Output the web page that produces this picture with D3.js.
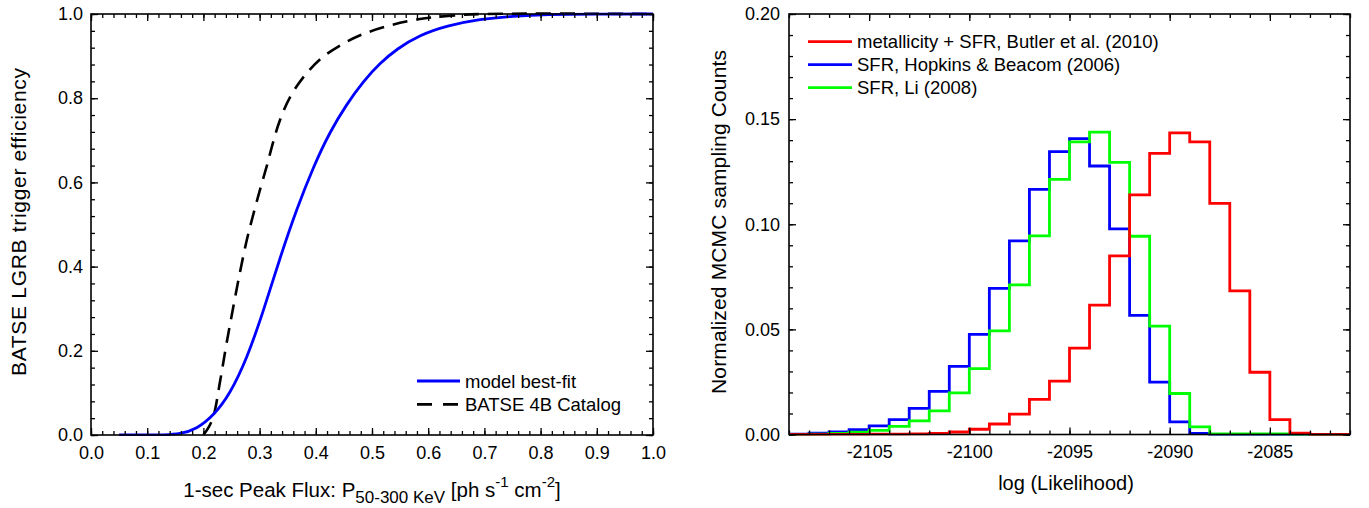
<!DOCTYPE html>
<html><head><meta charset="utf-8">
<script src="https://cdn.jsdelivr.net/npm/d3@7"></script>
<style>
body{margin:0;background:#fff}
svg{display:block}
text{font-family:"Liberation Sans",Arial,Helvetica,sans-serif;fill:#000}
</style>
</head><body>
<svg id="c" width="1369" height="508"></svg>
<script>
// ---------- Left panel data ----------
const modelFlux = [0.05,0.10,0.13,0.158,0.188,0.218,0.247,0.277,0.307,0.336,0.366,0.396,0.425,0.455,0.485,0.514,0.544,0.585,0.633,0.692,0.751,0.81,0.9,1.0];
const modelEff  = [0.0,0.0,0.0003,0.002,0.014,0.046,0.097,0.180,0.295,0.420,0.537,0.638,0.720,0.786,0.841,0.883,0.917,0.950,0.972,0.988,0.995,0.999,1.0,1.0];
const batseFlux = [0.200,0.210,0.218,0.230,0.241,0.253,0.265,0.277,0.289,0.301,0.313,0.324,0.336,0.354,0.378,0.408,0.443,0.480,0.530,0.585,0.640,0.700,1.0];
const batseEff  = [0.0,0.02,0.045,0.13,0.216,0.303,0.386,0.462,0.525,0.584,0.640,0.695,0.747,0.802,0.850,0.893,0.925,0.950,0.972,0.988,0.996,1.0,1.0];
const fluxTicks = [0.0,0.1,0.2,0.3,0.4,0.5,0.6,0.7,0.8,0.9,1.0];
const effTicks  = [0.0,0.2,0.4,0.6,0.8,1.0];
const leftLegend = ["model best-fit","BATSE 4B Catalog"];

// ---------- Right panel data ----------
const binLeft = [-2109,-2108,-2107,-2106,-2105,-2104,-2103,-2102,-2101,-2100,-2099,-2098,-2097,-2096,-2095,-2094,-2093,-2092,-2091,-2090,-2089,-2088,-2087,-2086,-2085,-2084,-2083,-2082];
const redCounts   = [0.0,0.0,0.0001,0.0001,0.0002,0.0002,0.0003,0.0005,0.0012,0.0025,0.0050,0.0097,0.0167,0.0254,0.0411,0.0615,0.0850,0.1140,0.1337,0.1435,0.1392,0.1099,0.0683,0.0296,0.0071,0.0006,0.0,0.0];
const blueCounts  = [0.0002,0.0006,0.0012,0.0023,0.0041,0.0071,0.0124,0.0205,0.0324,0.0476,0.0695,0.0921,0.1166,0.1345,0.1407,0.1277,0.0978,0.0567,0.0249,0.0060,0.0005,0.0,0.0,0.0,0.0,0.0,0.0,0.0];
const greenCounts = [0.0001,0.0002,0.0005,0.0011,0.0020,0.0039,0.0065,0.0112,0.0198,0.0313,0.0493,0.0712,0.0945,0.1213,0.1392,0.1438,0.1294,0.0943,0.0515,0.0195,0.0036,0.0003,0.0003,0.0003,0.0003,0.0,0.0,0.0];
const likeTicks  = [-2105,-2100,-2095,-2090,-2085];
const countTicks = [0.00,0.05,0.10,0.15,0.20];
const rightLegend = ["metallicity + SFR, Butler et al. (2010)","SFR, Hopkins & Beacom (2006)","SFR, Li (2008)"];

const svg = d3.select("#c");
const TICK_FS = "18px";

function frame(g, x, y, xMajor, xMinorStep, yMajor, yMinorStep, xFmt, yFmt, xLabPad, yLabPad){
  const [x0,x1] = x.range(), [y0,y1] = y.range(); // y0 bottom
  const xd = x.domain(), yd = y.domain();
  const xMinor = d3.range(Math.round((xd[1]-xd[0])/xMinorStep)+1).map(i=>xd[0]+i*xMinorStep);
  const yMinor = d3.range(Math.round((yd[1]-yd[0])/yMinorStep)+1).map(i=>yd[0]+i*yMinorStep);
  const add = (axis, tr) => {
    const a = g.append("g").attr("transform", tr).call(axis);
    a.select(".domain").remove();
    a.selectAll(".tick line").attr("stroke","#000").attr("stroke-width",1.3);
    a.selectAll(".tick text").style("font-size",TICK_FS).attr("fill","#000");
    return a;
  };
  add(d3.axisBottom(x).tickValues(xMinor).tickSize(-4).tickFormat(""), `translate(0,${y0})`);
  add(d3.axisTop(x).tickValues(xMinor).tickSize(-4).tickFormat(""), `translate(0,${y1})`);
  add(d3.axisLeft(y).tickValues(yMinor).tickSize(-4).tickFormat(""), `translate(${x0},0)`);
  add(d3.axisRight(y).tickValues(yMinor).tickSize(-4).tickFormat(""), `translate(${x1},0)`);
  add(d3.axisBottom(x).tickValues(xMajor).tickSize(-7).tickPadding(xLabPad).tickFormat(xFmt), `translate(0,${y0})`);
  add(d3.axisTop(x).tickValues(xMajor).tickSize(-7).tickFormat(""), `translate(0,${y1})`);
  add(d3.axisLeft(y).tickValues(yMajor).tickSize(-7).tickPadding(yLabPad).tickFormat(yFmt), `translate(${x0},0)`);
  add(d3.axisRight(y).tickValues(yMajor).tickSize(-7).tickFormat(""), `translate(${x1},0)`);
  g.append("rect").attr("x",x0).attr("y",y1).attr("width",x1-x0).attr("height",y0-y1)
    .attr("fill","none").attr("stroke","#000").attr("stroke-width",1.6);
}

// ================= LEFT PANEL =================
{
  const g = svg.append("g");
  const x = d3.scaleLinear().domain([0,1]).range([91,653]);
  const y = d3.scaleLinear().domain([0,1]).range([435,14]);
  g.append("clipPath").attr("id","clipL").append("rect")
    .attr("x",91).attr("y",12).attr("width",562).attr("height",424);
  const dashLine = d3.line().x(d=>x(d[0])).y(d=>y(d[1])).curve(d3.curveCatmullRom.alpha(0.5));
  const smoothLine = d3.line().x(d=>x(d[0])).y(d=>y(d[1])).curve(d3.curveBasis);
  g.append("path").datum(batseFlux.map((f,i)=>[f,batseEff[i]]))
    .attr("d",dashLine).attr("fill","none").attr("stroke","#000").attr("stroke-width",2.6)
    .attr("stroke-dasharray","15,9").attr("clip-path","url(#clipL)");
  g.append("path").datum(modelFlux.map((f,i)=>[f,modelEff[i]]))
    .attr("d",smoothLine).attr("fill","none").attr("stroke","#0000ff").attr("stroke-width",2.8)
    .attr("clip-path","url(#clipL)");
  frame(g, x, y, fluxTicks, 0.02, effTicks, 0.04, d3.format(".1f"), d3.format(".1f"), 11, 8);

  const styles = [{c:"#0000ff",d:null},{c:"#000",d:"15,11"}];
  leftLegend.forEach((t,i)=>{
    const yy = 381 + i*23.3;
    g.append("line").attr("x1",417).attr("x2",460).attr("y1",yy).attr("y2",yy)
      .attr("stroke",styles[i].c).attr("stroke-width",2.8).attr("stroke-dasharray",styles[i].d);
    g.append("text").attr("x",465).attr("y",yy+6.6).style("font-size","18.5px").text(t);
  });

  g.append("text").attr("transform","translate(26,222) rotate(-90)")
    .attr("text-anchor","middle").style("font-size","21px")
    .attr("textLength",308).attr("lengthAdjust","spacing")
    .text("BATSE LGRB trigger efficiency");
  const xt = g.append("text").attr("x",372).attr("y",497).attr("text-anchor","middle").style("font-size","20.5px");
  xt.append("tspan").text("1-sec Peak Flux: P");
  xt.append("tspan").attr("dy",6).style("font-size","17px").text("50-300 KeV");
  xt.append("tspan").attr("dy",-6).text(" [ph s");
  xt.append("tspan").attr("dy",-10).style("font-size","15px").text("-1");
  xt.append("tspan").attr("dy",10).text(" cm");
  xt.append("tspan").attr("dy",-10).style("font-size","15px").text("-2");
  xt.append("tspan").attr("dy",10).text("]");
}

// ================= RIGHT PANEL =================
{
  const g = svg.append("g");
  const x = d3.scaleLinear().domain([-2109,-2081]).range([789,1350]);
  const y = d3.scaleLinear().domain([0,0.20]).range([434.5,14]);
  g.append("clipPath").attr("id","clipR").append("rect")
    .attr("x",789).attr("y",12).attr("width",561).attr("height",423.5);
  const step = d3.line().x(d=>x(d[0])).y(d=>y(d[1])).curve(d3.curveStepAfter);
  const series = [
    {v:blueCounts, c:"#0000ff"},
    {v:greenCounts, c:"#00ff00"},
    {v:redCounts, c:"#ff0000"}
  ];
  series.forEach(s=>{
    const pts = binLeft.map((b,i)=>[b,s.v[i]]);
    pts.push([binLeft[binLeft.length-1]+1, s.v[s.v.length-1]]);
    g.append("path").datum(pts).attr("d",step).attr("fill","none")
      .attr("stroke",s.c).attr("stroke-width",2.8).attr("stroke-linejoin","miter")
      .attr("clip-path","url(#clipR)");
  });
  frame(g, x, y, likeTicks, 1, countTicks, 0.01, d=>String(d), d3.format(".2f"), 11, 9);

  const cols = ["#ff0000","#0000ff","#00ff00"];
  rightLegend.forEach((t,i)=>{
    const yy = 41.7 + i*23;
    g.append("line").attr("x1",808).attr("x2",852).attr("y1",yy).attr("y2",yy)
      .attr("stroke",cols[i]).attr("stroke-width",2.8);
    g.append("text").attr("x",857).attr("y",yy+6.6).style("font-size","18.5px").text(t);
  });

  g.append("text").attr("transform","translate(726,222) rotate(-90)")
    .attr("text-anchor","middle").style("font-size","21px")
    .attr("textLength",344).attr("lengthAdjust","spacing")
    .text("Normalized MCMC sampling Counts");
  g.append("text").attr("x",1066).attr("y",490).attr("text-anchor","middle")
    .style("font-size","20px").text("log (Likelihood)");
}
</script>
</body></html>
